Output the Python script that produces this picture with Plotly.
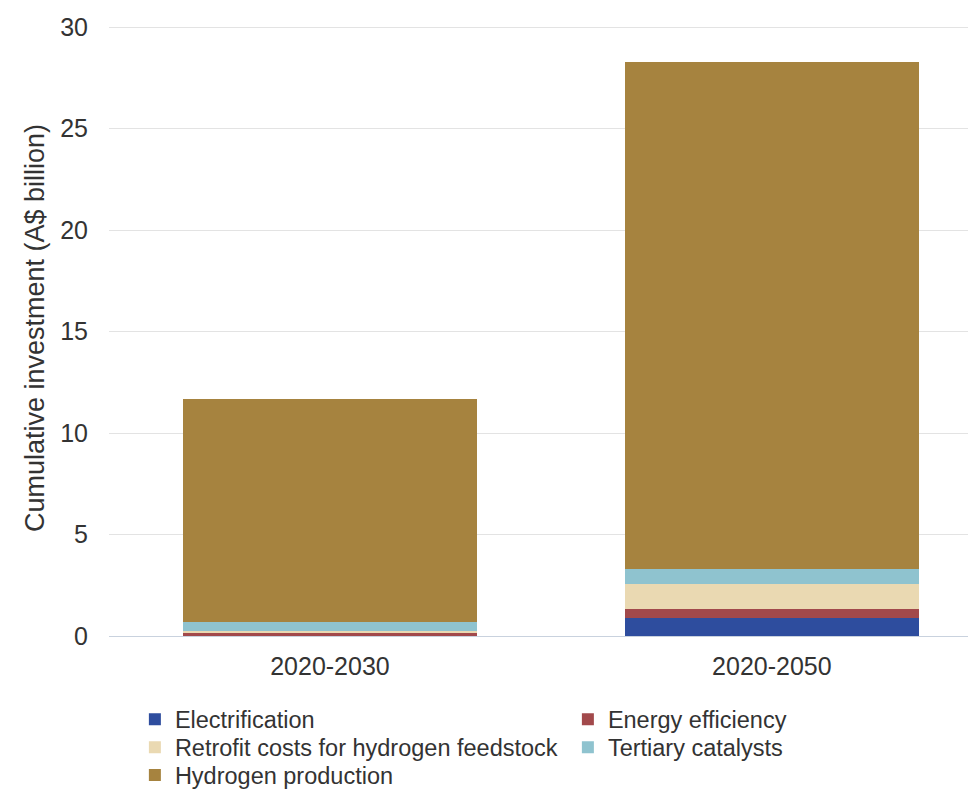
import plotly.graph_objects as go

categories = ["2020-2030", "2020-2050"]
electrification = [0.0, 0.9]
energy_efficiency = [0.18, 0.45]
retrofit = [0.05, 1.2]
tertiary = [0.45, 0.75]
hydrogen_production = [10.99, 24.98]

series_names = ["Electrification", "Energy efficiency",
                "Retrofit costs for hydrogen feedstock", "Tertiary catalysts",
                "Hydrogen production"]
series_values = [electrification, energy_efficiency, retrofit, tertiary, hydrogen_production]
colors = ["#2E4D9E", "#A2494B", "#EAD9B2", "#8FC3CF", "#A6833F"]
legend_rows = ["legend", "legend", "legend2", "legend2", "legend3"]

fig = go.Figure()
for name, vals, c, lg in zip(series_names, series_values, colors, legend_rows):
    fig.add_trace(go.Bar(x=categories, y=vals, name=name, legend=lg,
                         marker=dict(color=c, line=dict(width=0)), width=0.667))

font = "Liberation Sans, Arial, sans-serif"

def row_legend(ytop):
    return dict(orientation="h", xref="container", x=0.13, xanchor="left",
                yref="container", y=ytop, yanchor="top", bgcolor="rgba(0,0,0,0)",
                entrywidth=388, entrywidthmode="pixels", traceorder="normal",
                font=dict(size=23.5, color="#333333"), itemwidth=30, tracegroupgap=0)

fig.update_layout(
    width=976, height=798,
    barmode="stack",
    plot_bgcolor="white", paper_bgcolor="white",
    margin=dict(l=101, r=0, t=12, b=170, autoexpand=False),
    font=dict(family=font, size=24, color="#333333"),
    xaxis=dict(range=[-0.5, 1.48], showgrid=False, showline=False, ticks="", automargin=False,
               tickfont=dict(size=25), ticklabelstandoff=13),
    yaxis=dict(range=[0, 30.35], tickvals=[0, 5, 10, 15, 20, 25, 30], showgrid=True, automargin=False,
               gridcolor="#e3e3e3", gridwidth=1, zeroline=True, zerolinecolor="#c9d2de",
               zerolinewidth=1, ticks="", tickfont=dict(size=25), ticklabelstandoff=20,
               title=dict(text="Cumulative investment (A$ billion)", font=dict(size=27), standoff=7)),
    legend=row_legend(0.136),
    legend2=row_legend(0.101),
    legend3=row_legend(0.066),
    bargap=0.333,
)

fig.write_html("out.html")
